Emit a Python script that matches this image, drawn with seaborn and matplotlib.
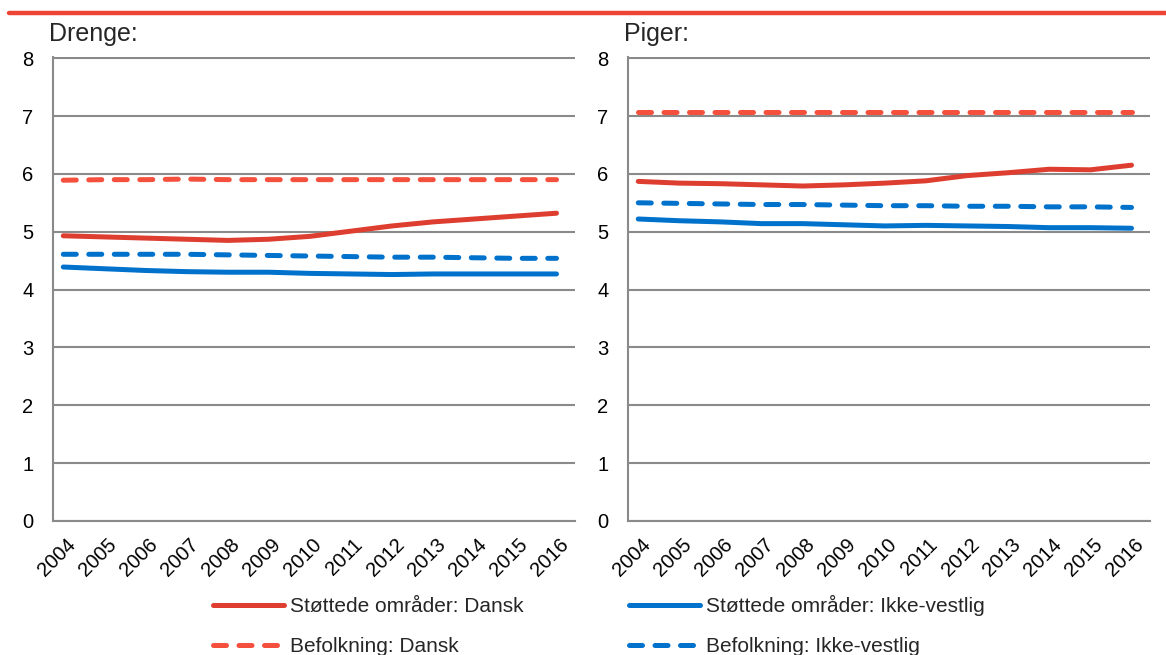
import matplotlib
matplotlib.use("Agg")
import matplotlib.pyplot as plt
import matplotlib.transforms as mtransforms
from matplotlib.lines import Line2D
import seaborn as sns
import pandas as pd

years = list(range(2004, 2017))

# Drenge
boys_stot_dansk = [4.93, 4.91, 4.89, 4.87, 4.85, 4.87, 4.92, 5.01, 5.10, 5.17, 5.22, 5.27, 5.32]
boys_bef_dansk = [5.89, 5.90, 5.90, 5.91, 5.90, 5.90, 5.90, 5.90, 5.90, 5.90, 5.90, 5.90, 5.90]
boys_stot_ikke = [4.39, 4.36, 4.33, 4.31, 4.30, 4.30, 4.28, 4.27, 4.26, 4.27, 4.27, 4.27, 4.27]
boys_bef_ikke = [4.61, 4.61, 4.61, 4.61, 4.60, 4.59, 4.58, 4.57, 4.56, 4.56, 4.55, 4.54, 4.54]

# Piger
girls_stot_dansk = [5.87, 5.84, 5.83, 5.81, 5.79, 5.81, 5.84, 5.88, 5.97, 6.02, 6.08, 6.07, 6.15]
girls_bef_dansk = [7.07, 7.07, 7.07, 7.07, 7.07, 7.07, 7.07, 7.07, 7.07, 7.07, 7.07, 7.07, 7.07]
girls_stot_ikke = [5.22, 5.19, 5.17, 5.14, 5.14, 5.12, 5.10, 5.11, 5.10, 5.09, 5.07, 5.07, 5.06]
girls_bef_ikke = [5.50, 5.49, 5.48, 5.47, 5.47, 5.46, 5.45, 5.45, 5.44, 5.44, 5.43, 5.43, 5.42]

series = ["Støttede områder: Dansk", "Befolkning: Dansk",
          "Støttede områder: Ikke-vestlig", "Befolkning: Ikke-vestlig"]
colors = {series[0]: "#DE3E30", series[1]: "#F5503E",
          series[2]: "#0072CC", series[3]: "#0072CC"}

def long_df(vals):
    rows = []
    for name, v in zip(series, vals):
        for y, val in zip(years, v):
            rows.append({"Aar": y, "Vaerdi": val, "Serie": name})
    return pd.DataFrame(rows)

panels = [("Drenge:", long_df([boys_stot_dansk, boys_bef_dansk, boys_stot_ikke, boys_bef_ikke])),
          ("Piger:", long_df([girls_stot_dansk, girls_bef_dansk, girls_stot_ikke, girls_bef_ikke]))]

sns.set_theme(style="white")
plt.rcParams['font.family'] = ['Liberation Sans', 'DejaVu Sans']

fig = plt.figure(figsize=(11.66, 6.55), dpi=100)
W, H = 1166, 655
ax_l = fig.add_axes([53 / W, 1 - 521 / H, 522 / W, 464 / H])
ax_r = fig.add_axes([628 / W, 1 - 521 / H, 522 / W, 464 / H])

lw = 3.6
dash = (0, (2.6, 2.5))
for ax, (title, df) in zip([ax_l, ax_r], panels):
    for i, name in enumerate(series):
        d = df[df["Serie"] == name]
        sns.lineplot(data=d, x="Aar", y="Vaerdi", color=colors[name], lw=lw,
                     ax=ax, legend=False, zorder=3)
        ln = ax.get_lines()[-1]
        if i % 2 == 1:
            ln.set_linestyle(dash)
        ln.set_dash_capstyle("round")
        ln.set_solid_capstyle("round")
    ax.set_xlim(2004 - 0.25, 2016 + 0.45)
    ax.set_ylim(0, 8.02)
    ax.set_yticks(range(0, 9))
    ax.set_xticks(years)
    ax.set_xlabel("")
    ax.set_ylabel("")
    ax.grid(axis="y", color="#8A8A8A", lw=1.5)
    ax.set_axisbelow(True)
    for s in ["top", "right"]:
        ax.spines[s].set_visible(False)
    for s in ["left", "bottom"]:
        ax.spines[s].set_color("#8A8A8A")
        ax.spines[s].set_linewidth(1.5)
    ax.tick_params(axis="both", length=0, labelsize=14.5, colors="black")
    ax.tick_params(axis="y", pad=14)
    offset = mtransforms.ScaledTranslation(9 / 100, -16 / 100, fig.dpi_scale_trans)
    for lab in ax.get_xticklabels():
        lab.set_rotation(45)
        lab.set_ha("right")
        lab.set_va("center")
        lab.set_rotation_mode("anchor")
        lab.set_transform(lab.get_transform() + offset)
    ax.text(-0.008, 1.035, title, transform=ax.transAxes, fontsize=18,
            ha="left", va="baseline")

# red rule at top
fig.add_artist(Line2D([9 / W, 1.0], [1 - 13 / H, 1 - 13 / H], color="#EE4433", lw=3.2))

handles = []
for i, name in enumerate(series):
    kw = {"linestyle": dash, "dash_capstyle": "round"} if i % 2 == 1 else {"solid_capstyle": "round"}
    handles.append(Line2D([], [], color=colors[name], lw=lw, **kw))
fig.legend(handles, series, ncol=2, loc="lower left", bbox_to_anchor=(194 / W, -0.03),
           frameon=False, fontsize=15, handlelength=3.4, handletextpad=0.3,
           columnspacing=5.05, labelspacing=1.0)

fig.savefig("out.png", dpi=100)
